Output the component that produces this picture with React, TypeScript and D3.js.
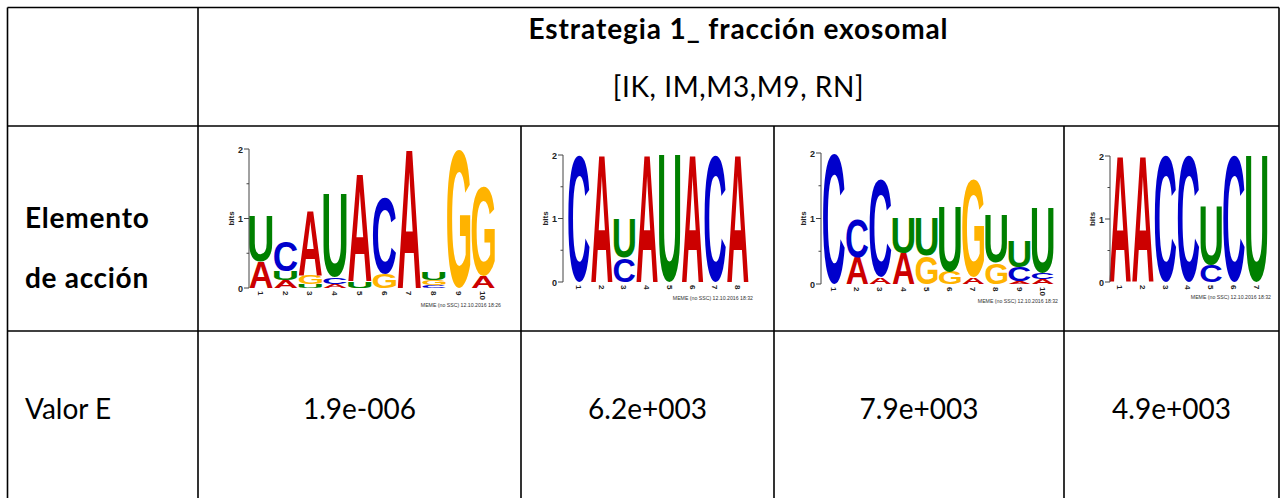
import React, { useEffect, useRef } from 'react';
import * as d3 from 'd3';

// motif stacks, bottom to top: [letter, bits]
const motif1: [string, number][][] = [
  [['A', 0.38], ['U', 0.65]],
  [['A', 0.11], ['U', 0.13], ['C', 0.43]],
  [['U', 0.05], ['G', 0.14], ['A', 0.93]],
  [['A', 0.06], ['C', 0.09], ['U', 1.19]],
  [['U', 0.1], ['A', 1.56]],
  [['G', 0.2], ['C', 1.1]],
  [['A', 2.0]],
  [['C', 0.04], ['G', 0.07], ['U', 0.11]],
  [['G', 2.0]],
  [['A', 0.17], ['G', 1.28]],
];
const motif2: [string, number][][] = [
  [['C', 2.0]],
  [['A', 2.0]],
  [['C', 0.38], ['U', 0.62]],
  [['A', 2.0]],
  [['U', 2.0]],
  [['A', 2.0]],
  [['C', 2.0]],
  [['A', 2.0]],
];
const motif3: [string, number][][] = [
  [['C', 2.0]],
  [['A', 0.41], ['C', 0.59]],
  [['A', 0.1], ['C', 1.48]],
  [['A', 0.47], ['U', 0.53]],
  [['G', 0.43], ['U', 0.57]],
  [['G', 0.19], ['U', 0.99]],
  [['A', 0.1], ['G', 1.48]],
  [['G', 0.32], ['U', 0.73]],
  [['A', 0.04], ['C', 0.22], ['U', 0.39]],
  [['A', 0.07], ['C', 0.1], ['U', 1.0]],
];
const motif4: [string, number][][] = [
  [['A', 2.0]],
  [['A', 2.0]],
  [['C', 2.0]],
  [['C', 2.0]],
  [['C', 0.27], ['U', 0.92]],
  [['C', 2.0]],
  [['U', 2.0]],
];

const eValues = ['1.9e-006', '6.2e+003', '7.9e+003', '4.9e+003'];
const memeStamps = [
  'MEME (no SSC) 12.10.2016 18:26',
  'MEME (no SSC) 12.10.2016 18:32',
  'MEME (no SSC) 12.10.2016 18:32',
  'MEME (no SSC) 12.10.2016 18:32',
];
const headerTitle = 'Estrategia 1_ fracción exosomal';
const headerSub = '[IK, IM,M3,M9, RN]';

const letterColor: Record<string, string> = {
  A: '#CC0000',
  C: '#0000CC',
  G: '#FFB300',
  U: '#008000',
};

// logo placement inside each cell
const logos = [
  { data: motif1, axisX: 249, y0: 288, y2: 149, c1: 261, step: 24.7, memeX: 501, memeY: 307 },
  { data: motif2, axisX: 563, y0: 282, y2: 155, c1: 579, step: 22.7, memeX: 753, memeY: 300 },
  { data: motif3, axisX: 821, y0: 284, y2: 153, c1: 834, step: 23.2, memeX: 1058, memeY: 303 },
  { data: motif4, axisX: 1110, y0: 282, y2: 156, c1: 1120, step: 22.8, memeX: 1271, memeY: 299 },
];

const colX = [7.5, 198, 521, 774, 1064, 1279];
const rowY = [7.5, 126, 331, 520];
const FONT = 'Lato, "Open Sans", sans-serif';
const FS = 28;
const LOGO_FONT = '"Liberation Sans", Arial, sans-serif';

export default function App() {
  const ref = useRef<SVGGElement>(null);

  useEffect(() => {
    const g = d3.select(ref.current);
    g.selectAll('*').remove();
    const ctx = document.createElement('canvas').getContext('2d')!;
    ctx.font = 'bold 100px "Liberation Sans"';
    const metrics: Record<string, TextMetrics> = {};
    'ACGU'.split('').forEach(l => (metrics[l] = ctx.measureText(l)));

    logos.forEach(lg => {
      const y = d3.scaleLinear().domain([0, 2]).range([lg.y0, lg.y2]);
      const n = lg.data.length;
      const x = d3.scaleLinear().domain([0, n - 1]).range([lg.c1, lg.c1 + lg.step * (n - 1)]);
      const w = lg.step * 0.94;

      lg.data.forEach((stack, i) => {
        let acc = 0;
        stack.forEach(([letter, bits]) => {
          const yb = y(acc);
          const yt = y(acc + bits);
          acc += bits;
          const m = metrics[letter];
          const gw = m.actualBoundingBoxLeft + m.actualBoundingBoxRight;
          const gh = m.actualBoundingBoxAscent + m.actualBoundingBoxDescent;
          const h = yb - yt;
          g.append('text')
            .attr('x', 0)
            .attr('y', 0)
            .attr('font-family', LOGO_FONT)
            .attr('font-weight', 'bold')
            .attr('font-size', 100)
            .attr('fill', letterColor[letter])
            .attr(
              'transform',
              `translate(${x(i) - w / 2},${yt}) scale(${w / gw},${h / gh}) translate(${m.actualBoundingBoxLeft},${m.actualBoundingBoxAscent})`
            )
            .text(letter);
        });
        // x tick number
        g.append('text')
          .attr('transform', `translate(${x(i) - 3},${lg.y0 + 3}) rotate(90)`)
          .attr('font-family', LOGO_FONT)
          .attr('font-weight', 'bold')
          .attr('font-size', 8)
          .attr('fill', '#222')
          .text(i + 1);
      });

      // y axis
      const ax = g.append('g').attr('stroke', '#444').attr('stroke-width', 1);
      ax.append('line').attr('x1', lg.axisX).attr('x2', lg.axisX).attr('y1', y(0)).attr('y2', y(2));
      [0, 1, 2].forEach(t => {
        ax.append('line').attr('x1', lg.axisX - 5).attr('x2', lg.axisX).attr('y1', y(t)).attr('y2', y(t));
      });
      [0.5, 1.5].forEach(t => {
        ax.append('line').attr('x1', lg.axisX - 2.5).attr('x2', lg.axisX).attr('y1', y(t)).attr('y2', y(t));
      });
      [0, 1, 2].forEach(t => {
        g.append('text')
          .attr('x', lg.axisX - 6)
          .attr('y', y(t) + 3.5)
          .attr('text-anchor', 'end')
          .attr('font-family', LOGO_FONT)
          .attr('font-weight', 'bold')
          .attr('font-size', 9)
          .attr('fill', '#222')
          .text(t);
      });
      g.append('text')
        .attr('transform', `translate(${lg.axisX - 15},${(y(0) + y(2)) / 2}) rotate(-90)`)
        .attr('text-anchor', 'middle')
        .attr('font-family', LOGO_FONT)
        .attr('font-weight', 'bold')
        .attr('font-size', 8)
        .attr('fill', '#222')
        .text('bits');
    });
  }, []);

  const lines: JSX.Element[] = [];
  // horizontal lines
  rowY.forEach((yy, i) => {
    lines.push(<line key={'h' + i} x1={colX[0]} x2={colX[5]} y1={yy} y2={yy} />);
  });
  // outer verticals and first column divider
  lines.push(<line key="v0" x1={colX[0]} x2={colX[0]} y1={rowY[0]} y2={rowY[3]} />);
  lines.push(<line key="v1" x1={colX[1]} x2={colX[1]} y1={rowY[0]} y2={rowY[3]} />);
  lines.push(<line key="v5" x1={colX[5]} x2={colX[5]} y1={rowY[0]} y2={rowY[3]} />);
  [2, 3, 4].forEach(c => {
    lines.push(<line key={'v' + c} x1={colX[c]} x2={colX[c]} y1={rowY[1]} y2={rowY[3]} />);
  });

  const headerCx = (colX[1] + colX[5]) / 2;

  return (
    <svg
      width={1280}
      height={498}
      style={{ position: 'absolute', left: 0, top: 0, background: '#fff' }}
    >
      <g stroke="#000" strokeWidth={1.6}>{lines}</g>
      <text x={headerCx} y={39} textAnchor="middle" fontFamily={FONT} fontWeight="bold" fontSize={FS} letterSpacing={0.9}>
        {headerTitle}
      </text>
      <text x={headerCx} y={97} textAnchor="middle" fontFamily={FONT} fontSize={FS} letterSpacing={0.6}>
        {headerSub}
      </text>
      <text x={25} y={228} fontFamily={FONT} fontWeight="bold" fontSize={FS} letterSpacing={0.8}>Elemento</text>
      <text x={25} y={288} fontFamily={FONT} fontWeight="bold" fontSize={FS} letterSpacing={0.7}>de acción</text>
      <text x={25} y={419} fontFamily={FONT} fontSize={FS}>Valor E</text>
      {eValues.map((v, i) => (
        <text key={v + i} x={(colX[i + 1] + colX[i + 2]) / 2} y={419} textAnchor="middle" fontFamily={FONT} fontSize={FS}>
          {v}
        </text>
      ))}
      {logos.map((lg, i) => (
        <text key={'m' + i} x={lg.memeX} y={lg.memeY} textAnchor="end" fontFamily={LOGO_FONT} fontSize={5.2} fill="#333">
          {memeStamps[i]}
        </text>
      ))}
      <g ref={ref} />
    </svg>
  );
}
